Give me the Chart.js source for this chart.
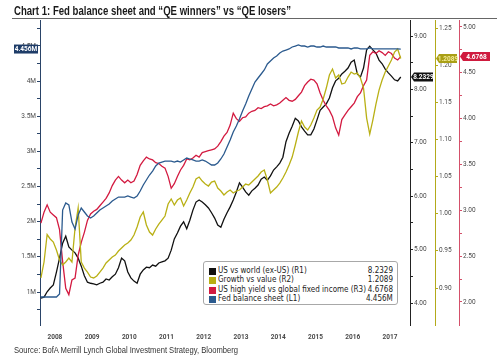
<!DOCTYPE html>
<html><head><meta charset="utf-8">
<script src="https://cdn.jsdelivr.net/npm/chart.js@4.4.1/dist/chart.umd.min.js"></script>
<style>
html,body{margin:0;padding:0;background:#fff;}
#wrap{position:relative;width:500px;height:363px;overflow:hidden;background:#fff;}
#c{position:absolute;left:0;top:0;}
.fit{position:absolute;white-space:nowrap;transform-origin:0 0;}
#title{left:14px;top:4px;font:bold 12px "Liberation Sans",Arial,sans-serif;color:#1a1a1a;}
#rule{position:absolute;left:12px;top:18px;width:485px;height:1px;background:#666;}
#source{left:14px;top:345px;font:9px "Liberation Sans",Arial,sans-serif;color:#333;}
#legend{position:absolute;left:203px;top:261px;width:193px;height:42px;border:1px solid #a8a8a8;border-radius:3px;background:#fff;font:8px "DejaVu Sans",sans-serif;color:#222;}
.row{position:absolute;left:0;width:193px;height:9px;}
.sw{position:absolute;left:5px;top:1px;width:7px;height:7px;}
.lab{position:absolute;left:14px;top:-1px;white-space:nowrap;transform-origin:0 50%;}
.val{position:absolute;right:4px;top:-1px;white-space:nowrap;transform-origin:100% 50%;}
</style></head>
<body>
<div id="wrap">
<canvas id="c" width="500" height="363"></canvas>
<div id="title" class="fit">Chart 1: Fed balance sheet and “QE winners” vs “QE losers”</div>
<div id="rule"></div>
<div id="legend"></div>
<div id="source" class="fit">Source: BofA Merrill Lynch Global Investment Strategy, Bloomberg</div>
</div>
<script>
// ---- data (monthly, starting Feb 2008) ----
const startYear = 2008, startMonth = 2;
const yearLabels = ['2008','2009','2010','2011','2012','2013','2014','2015','2016','2017'];

const usVsWorld = [
4.09,4.11,4.21,4.28,4.34,4.58,4.84,5.12,5.25,5.05,
4.99,4.94,4.84,4.69,4.51,4.39,4.37,4.36,4.34,4.37,
4.39,4.45,4.43,4.49,4.54,4.66,4.84,4.79,4.58,4.47,
4.41,4.37,4.54,4.62,4.67,4.66,4.71,4.69,4.75,4.77,
4.79,4.84,4.99,5.20,5.31,5.44,5.52,5.39,5.55,5.74,
5.89,5.93,5.89,5.84,5.78,5.69,5.59,5.46,5.42,5.57,
5.69,5.80,5.93,6.08,6.25,6.17,6.08,6.02,6.10,6.15,
6.21,6.32,6.36,6.30,6.38,6.49,6.55,6.62,6.73,7.02,
7.18,7.31,7.46,7.41,7.30,7.22,7.15,7.15,7.26,7.43,
7.61,7.67,7.73,7.84,8.03,8.16,8.21,8.29,8.34,8.40,
8.51,8.55,8.29,8.23,8.40,8.74,8.81,8.74,8.68,8.55,
8.48,8.38,8.31,8.25,8.18,8.16,8.2329];

const growthVsValue = [
0.9135,0.935,0.972,0.966,0.9619,0.9511,0.9377,0.931,0.935,0.9404,
0.935,0.9808,1.0077,0.935,0.9269,0.9215,0.9148,0.9135,0.9162,0.9215,
0.9269,0.9337,0.9377,0.9417,0.9444,0.9498,0.9538,0.9579,0.9606,0.9646,
0.9713,0.9821,0.9956,1.0023,0.9848,0.9754,0.9713,0.9794,0.9861,0.9915,
0.9969,1.0131,1.0198,1.0117,1.0184,1.0211,1.0104,1.0184,1.0279,1.0359,
1.0467,1.0494,1.044,1.04,1.0373,1.0427,1.044,1.0346,1.0306,1.0252,
1.0292,1.0319,1.0279,1.0306,1.0319,1.0359,1.04,1.0386,1.0427,1.0467,
1.0508,1.0561,1.0588,1.0454,1.0279,1.0319,1.0359,1.0413,1.0481,1.0561,
1.0656,1.0763,1.0925,1.11,1.1248,1.1167,1.1127,1.1194,1.1288,1.1396,
1.1436,1.1544,1.1692,1.1867,1.1948,1.1827,1.1867,1.1746,1.1759,1.184,
1.1907,1.188,1.1894,1.1827,1.1692,1.1288,1.1073,1.1261,1.1477,1.1665,
1.18,1.1907,1.1988,1.2069,1.2177,1.2217,1.2089];

const hyVsGlobal = [
2.86,2.98,3.06,2.98,2.95,2.92,2.79,2.44,2.15,2.08,
2.24,2.26,2.51,2.65,2.76,2.89,2.96,2.99,3.01,3.05,
3.09,3.13,3.19,3.27,3.33,3.37,3.33,3.30,3.33,3.30,
3.32,3.39,3.49,3.54,3.58,3.56,3.55,3.52,3.51,3.48,
3.46,3.37,3.24,3.29,3.37,3.44,3.49,3.56,3.55,3.57,
3.60,3.58,3.63,3.64,3.65,3.66,3.67,3.70,3.75,3.81,
3.85,3.93,4.06,4.00,3.97,4.01,4.02,4.06,4.08,4.09,
4.12,4.11,4.13,4.14,4.16,4.14,4.15,4.17,4.20,4.23,
4.20,4.19,4.21,4.25,4.29,4.36,4.40,4.43,4.42,4.38,
4.28,4.20,4.14,4.09,4.02,3.90,3.82,3.99,4.04,4.09,
4.13,4.17,4.24,4.28,4.36,4.42,4.69,4.73,4.71,4.74,
4.72,4.69,4.73,4.71,4.66,4.64,4.6768];

const fedBalance = [
0.929,0.929,0.929,0.929,0.929,0.929,0.972,2.166,2.266,2.238,
1.996,1.896,2.095,2.195,2.138,2.081,2.053,2.081,2.124,2.166,
2.195,2.223,2.252,2.294,2.323,2.351,2.351,2.351,2.366,2.351,
2.337,2.366,2.437,2.522,2.593,2.664,2.721,2.792,2.835,2.849,
2.863,2.863,2.863,2.849,2.863,2.849,2.878,2.906,2.892,2.878,
2.863,2.863,2.878,2.863,2.835,2.807,2.807,2.835,2.892,2.963,
3.063,3.162,3.276,3.361,3.461,3.575,3.674,3.788,3.888,3.987,
4.044,4.101,4.158,4.243,4.286,4.329,4.357,4.400,4.428,4.442,
4.457,4.485,4.499,4.514,4.499,4.499,4.485,4.499,4.499,4.485,
4.485,4.499,4.485,4.485,4.485,4.485,4.471,4.471,4.471,4.471,
4.457,4.471,4.471,4.457,4.457,4.457,4.471,4.457,4.457,4.457,
4.457,4.457,4.457,4.457,4.457,4.457,4.456];

const leftTicks = [0.75,1,1.25,1.5,1.75,2,2.25,2.5,2.75,3,3.25,3.5,3.75,4,4.25,4.5,4.75];
const r1Ticks = [4,4.5,5,5.5,6,6.5,7,7.5,8,8.5,9];
const r2Ticks = [0.90,0.95,1.00,1.05,1.10,1.15,1.20,1.25];
const r3Ticks = [2,2.25,2.5,2.75,3,3.25,3.5,3.75,4,4.25,4.5,4.75,5];

const seriesNames = ['US vs world (ex-US) (R1)','Growth vs value (R2)','US high yield vs global fixed income (R3)','Fed balance sheet (L1)'];
const colors = {black:'#111111', olive:'#b9b015', red:'#d31a40', blue:'#2b5a8e'};

// ---- helpers ----
const dateOf = i => startYear + (startMonth - 0.5) / 12 + i / 12;
const toPts = arr => arr.map((v, i) => ({x: dateOf(i), y: v}));
const last = a => a[a.length - 1];
const isMult = (v, s) => Math.abs(v / s - Math.round(v / s)) < 1e-6;

// ---- legend ----
const legendDefs = [
  {name: seriesNames[0], color: colors.black, val: last(usVsWorld).toFixed(4)},
  {name: seriesNames[1], color: colors.olive, val: last(growthVsValue).toFixed(4)},
  {name: seriesNames[2], color: colors.red, val: last(hyVsGlobal).toFixed(4)},
  {name: seriesNames[3], color: colors.blue, val: last(fedBalance).toFixed(3) + 'M'}
];
const lg = document.getElementById('legend');
legendDefs.forEach((d, i) => {
  const r = document.createElement('div');
  r.className = 'row'; r.style.top = (5 + i * 9.4) + 'px';
  r.innerHTML = '<div class="sw" style="background:' + d.color + '"></div><div class="lab">' + d.name + '</div><div class="val">' + d.val + '</div>';
  lg.appendChild(r);
});

function fitAll() {
  const fitW = (id, w) => { const el = document.getElementById(id); el.style.transform = 'none'; const r = el.getBoundingClientRect().width; el.style.transform = 'scaleX(' + (w / r) + ')'; };
  fitW('title', 277);
  fitW('source', 224);
  const labs = [...document.querySelectorAll('.lab')];
  const vals = [...document.querySelectorAll('.val')];
  labs.concat(vals).forEach(e => e.style.transform = 'none');
  const longest = Math.max(...labs.map(e => e.getBoundingClientRect().width));
  const k = 148 / longest;
  labs.concat(vals).forEach(e => e.style.transform = 'scaleX(' + k + ')');
}
fitAll();
if (document.fonts && document.fonts.ready) document.fonts.ready.then(fitAll);

// ---- value tags plugin ----
const tagPlugin = {
  id: 'tags',
  afterDraw(chart) {
    const ctx = chart.ctx;
    const h = 9;
    const tags = [
      {axis: 'yL', v: last(fedBalance), text: last(fedBalance).toFixed(3) + 'M', fill: '#1e3c68', tc: '#ffffff', side: 'left'},
      {axis: 'y1', v: last(usVsWorld), text: last(usVsWorld).toFixed(4), fill: '#111111', tc: '#ffffff', side: 'right'},
      {axis: 'y2', v: last(growthVsValue), text: last(growthVsValue).toFixed(4), fill: '#a99f16', tc: '#f4ec9a', side: 'right'},
      {axis: 'y3', v: last(hyVsGlobal), text: last(hyVsGlobal).toFixed(4), fill: '#cf1b3e', tc: '#ffffff', side: 'right'}
    ];
    ctx.save();
    tags.forEach(t => {
      const s = chart.scales[t.axis];
      const yc = s.getPixelForValue(t.v);
      let x0, x1;
      if (t.side === 'left') { x1 = s.right - 2; x0 = 14; }
      else if (t.axis === 'y3') { x0 = s.left + 1; x1 = x0 + 30; }
      else { x0 = s.left + 1; x1 = s.right - 2; }
      ctx.beginPath();
      if (t.side === 'left') {
        ctx.rect(x0, yc - h / 2, x1 - x0, h);
      } else {
        ctx.moveTo(x0, yc);
        ctx.lineTo(x0 + 3, yc - h / 2);
        ctx.lineTo(x1, yc - h / 2);
        ctx.lineTo(x1, yc + h / 2);
        ctx.lineTo(x0 + 3, yc + h / 2);
        ctx.closePath();
      }
      ctx.fillStyle = t.fill; ctx.fill();
      ctx.font = 'bold 6.5px Roboto, sans-serif';
      ctx.fillStyle = t.tc; ctx.textAlign = 'center'; ctx.textBaseline = 'middle';
      ctx.fillText(t.text, (x0 + x1) / 2 + (t.side === 'left' ? 0 : 1.5), yc + 0.5);
    });
    ctx.restore();
  }
};

const tickFont = {family: 'Roboto, sans-serif', size: 6.5};
const yAxis = (pos, min, max, ticks, labelFn, color, width) => ({
  type: 'linear', position: pos, min: min, max: max,
  afterBuildTicks: s => { s.ticks = ticks.map(v => ({value: v})); },
  afterFit: s => { s.width = width; },
  grid: {drawOnChartArea: false, drawTicks: true, tickLength: 3, color: color, tickWidth: 1},
  border: {display: true, color: color, width: 1},
  ticks: {font: tickFont, color: '#4a4a4a', padding: 1, autoSkip: false, callback: labelFn}
});

new Chart(document.getElementById('c'), {
  type: 'line',
  data: {
    datasets: [
      {label: seriesNames[3], data: toPts(fedBalance), yAxisID: 'yL', borderColor: colors.blue, borderWidth: 1.3, pointRadius: 0, tension: 0},
      {label: seriesNames[1], data: toPts(growthVsValue), yAxisID: 'y2', borderColor: colors.olive, borderWidth: 1.3, pointRadius: 0, tension: 0},
      {label: seriesNames[2], data: toPts(hyVsGlobal), yAxisID: 'y3', borderColor: colors.red, borderWidth: 1.3, pointRadius: 0, tension: 0},
      {label: seriesNames[0], data: toPts(usVsWorld), yAxisID: 'y1', borderColor: colors.black, borderWidth: 1.3, pointRadius: 0, tension: 0}
    ]
  },
  options: {
    responsive: false, animation: false, devicePixelRatio: 1,
    layout: {padding: {top: 20, left: 0, right: 0, bottom: 0}},
    plugins: {legend: {display: false}, tooltip: {enabled: false}},
    scales: {
      x: {
        type: 'linear', min: 2008.1, max: 2018.04,
        afterBuildTicks: s => { s.ticks = yearLabels.map(y => ({value: +y + 0.5})); },
        afterFit: s => { s.height = 38; },
        grid: {display: false, drawTicks: false},
        border: {display: false},
        ticks: {font: {family: 'Roboto, sans-serif', size: 6.5, weight: 'bold'}, color: '#4a4a4a', padding: 8, maxRotation: 0, autoSkip: false,
          callback: v => String(Math.floor(v))}
      },
      yL: yAxis('left', 0.531, 4.869, leftTicks, v => isMult(v, 0.5) ? (+v.toFixed(2)) + 'M' : '', '#2a4468', 40),
      y1: yAxis('right', 3.588, 9.30, r1Ticks, v => isMult(v, 1) ? v.toFixed(2) : '', '#222222', 25),
      y2: yAxis('right', 0.8502, 1.2608, r2Ticks, v => v.toFixed(2), '#b3aa1a', 24),
      y3: yAxis('right', 1.749, 5.076, r3Ticks, v => isMult(v, 0.5) ? v.toFixed(2) : '', '#d4506a', 41)
    }
  },
  plugins: [tagPlugin]
});
</script>
</body></html>
